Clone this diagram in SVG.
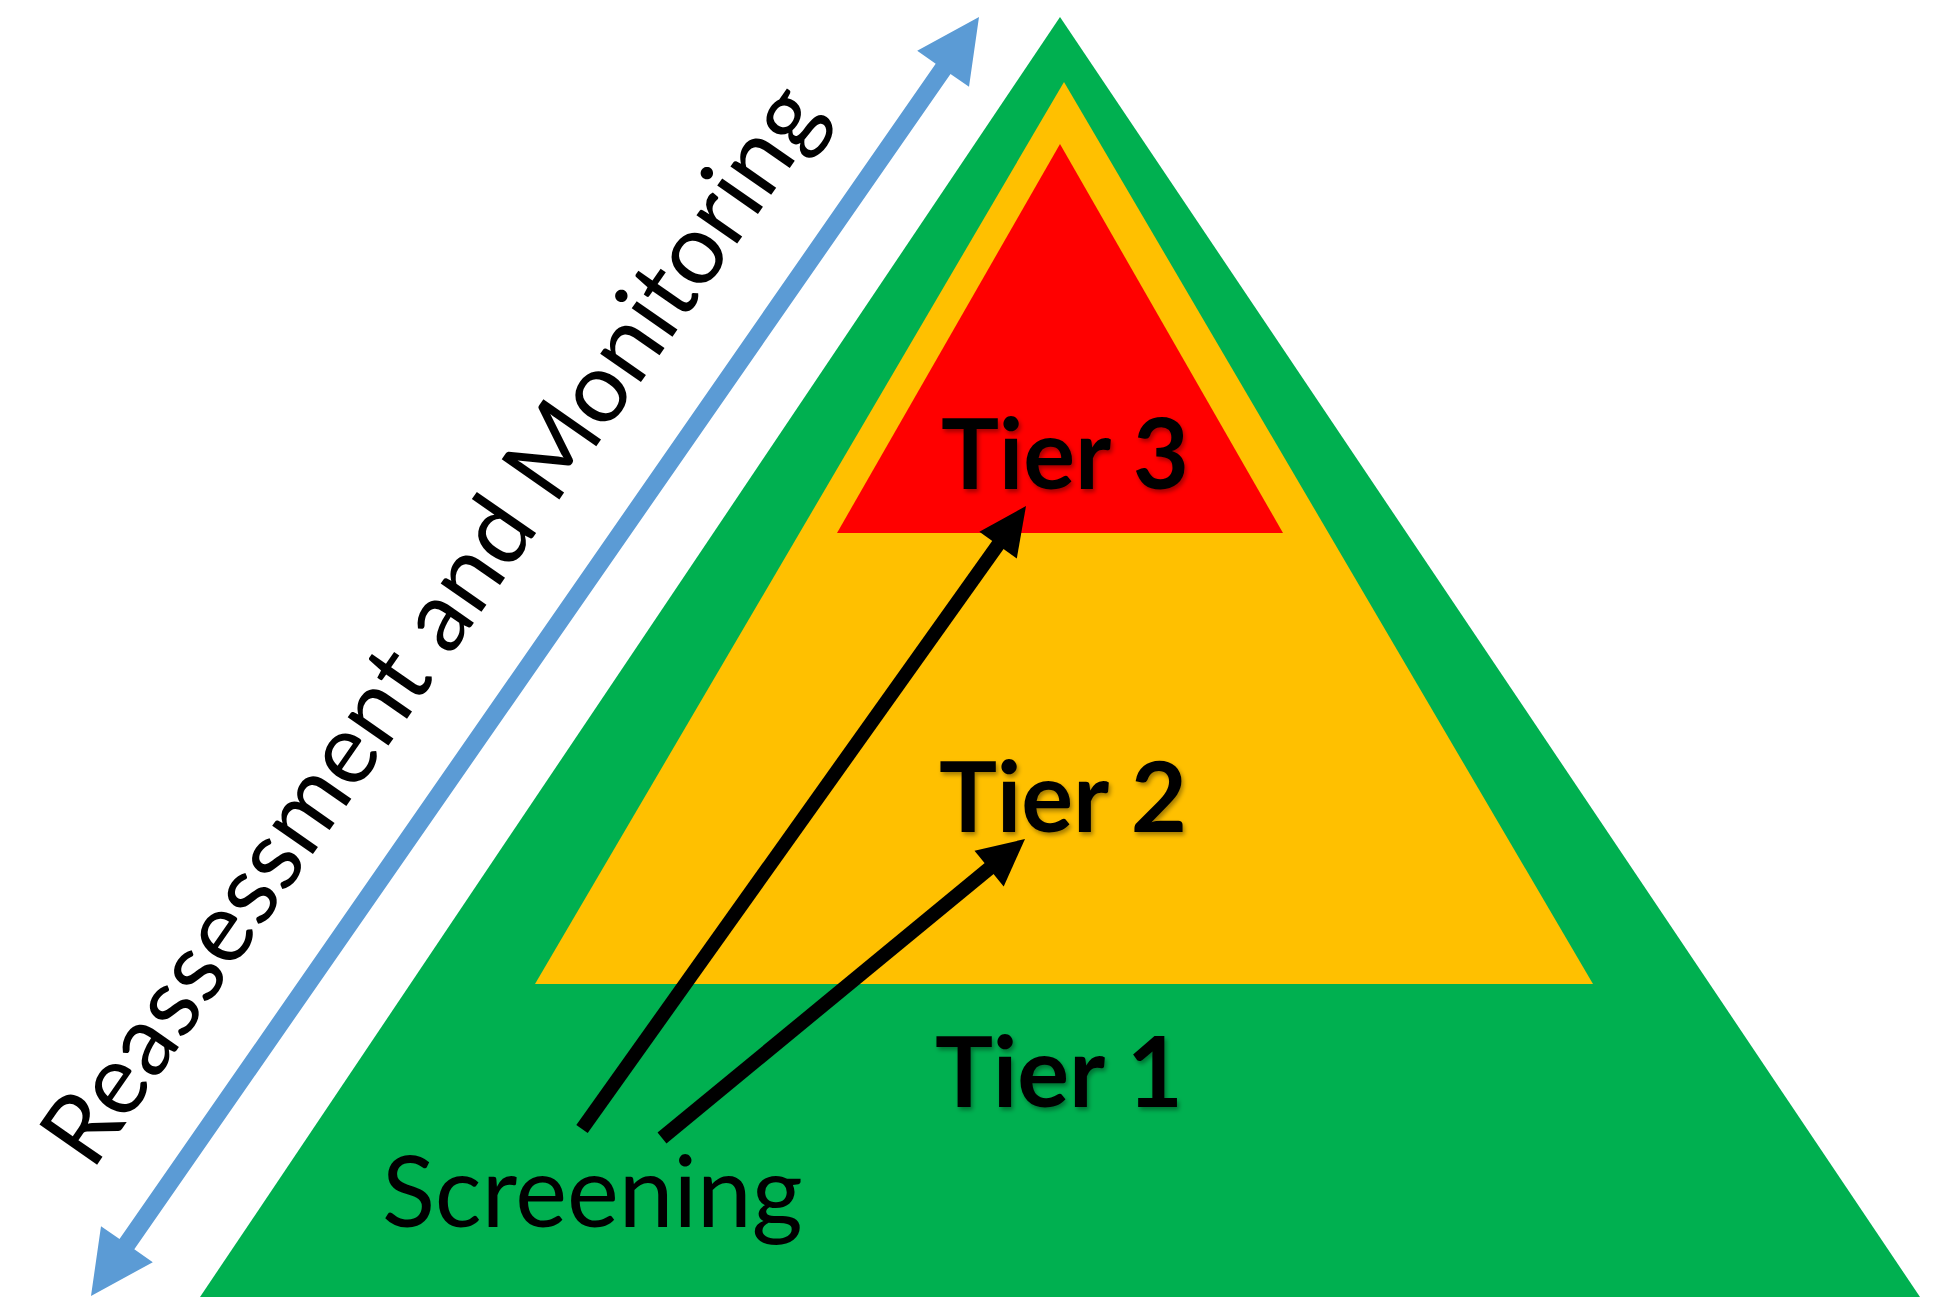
<svg xmlns="http://www.w3.org/2000/svg" width="1951" height="1297" viewBox="0 0 1951 1297">
  <defs>
    <style>
      .tier { font-family: Lato, "Liberation Sans", sans-serif; font-weight: 700; font-size: 97px; fill: #000; text-anchor: middle; }
      .lbl { font-family: Lato, "Liberation Sans", sans-serif; font-weight: 400; font-size: 98px; fill: #000; }
      .blk { stroke: #000; stroke-width: 14; fill: none; }
      .head { fill: #000; }
    </style>
    <filter id="shadow" x="-10%" y="-10%" width="130%" height="140%">
      <feDropShadow dx="2" dy="3" stdDeviation="2" flood-color="#000" flood-opacity="0.35"/>
    </filter>
  </defs>
  <rect width="1951" height="1297" fill="#fff"/>

  <g id="tier1">
    <polygon points="1060,17 200,1297 1920,1297" fill="#00B050"/>
    <text class="tier" x="1059" y="1107" filter="url(#shadow)">Tier 1</text>
  </g>
  <g id="tier2">
    <polygon points="1064,82 535,984 1593,984" fill="#FFC000"/>
    <text class="tier" x="1063" y="832" filter="url(#shadow)">Tier 2</text>
  </g>
  <g id="tier3">
    <polygon points="1060,144 837,533 1283,533" fill="#FF0000"/>
    <text class="tier" x="1065" y="489" filter="url(#shadow)">Tier 3</text>
  </g>

  <g id="screening">
    <text class="lbl" x="382" y="1227">Screening</text>
  </g>

  <g id="reassessment">
    <polygon fill="#5B9BD5" points="979,17 969,86.8 950.5,73.9 134.3,1249.3 152.8,1262.2 91,1296 101,1226.2 119.5,1239.1 935.7,63.7 917.2,50.8"/>
    <text class="lbl" transform="translate(92,1172) rotate(-55.2)">Reassessment and Monitoring</text>
  </g>

  <g id="connectors">
    <line class="blk" x1="582" y1="1129" x2="1000" y2="542"/>
    <polygon class="head" points="1026,506 1016.8,558.4 979.4,531.8"/>
    <line class="blk" x1="662" y1="1138" x2="991" y2="867"/>
    <polygon class="head" points="1025,839 1003.7,886.4 974.5,850.8"/>
  </g>
</svg>
